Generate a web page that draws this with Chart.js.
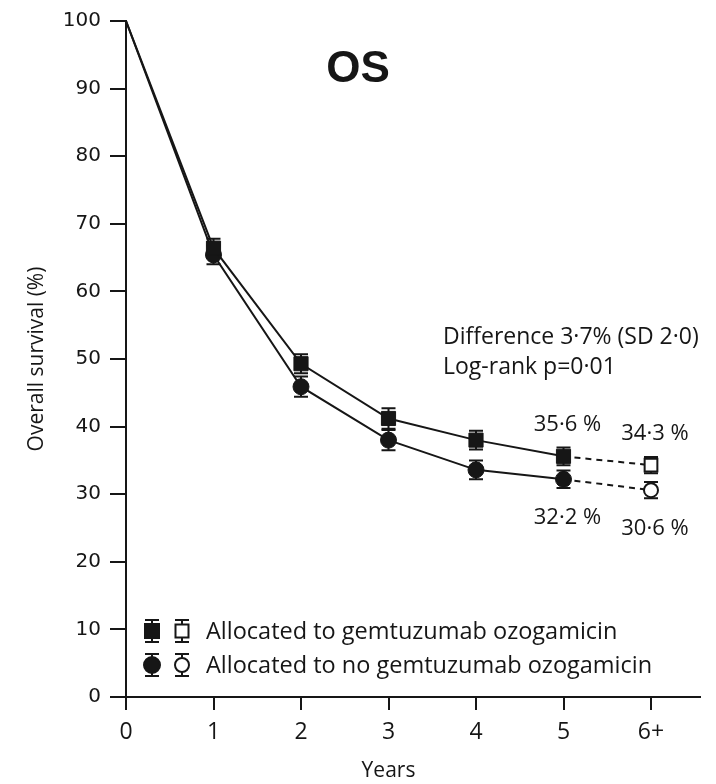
<!DOCTYPE html>
<html>
<head>
<meta charset="utf-8">
<script src="https://cdn.jsdelivr.net/npm/chart.js@4/dist/chart.umd.min.js"></script>
<style>
  html, body { margin: 0; padding: 0; background: #fff; }
  #wrap { width: 716px; height: 784px; }
</style>
</head>
<body>
<div id="wrap"><canvas id="c" width="716" height="784"></canvas></div>
<script>
// Overall survival by allocation, years since randomisation
const years = [0, 1, 2, 3, 4, 5, 6];
const xTickLabels = ['0', '1', '2', '3', '4', '5', '6+'];
const yTickValues = [0, 10, 20, 30, 40, 50, 60, 70, 80, 90, 100];

const goSurvival   = [100, 66.4, 49.3, 41.2, 38.0, 35.6, 34.3];
const goError      = [0, 1.4, 1.4, 1.5, 1.4, 1.3, 1.2];
const noGoSurvival = [100, 65.4, 45.9, 38.0, 33.6, 32.2, 30.6];
const noGoError    = [0, 1.4, 1.5, 1.5, 1.4, 1.3, 1.2];

const legendLabels = ['Allocated to gemtuzumab ozogamicin', 'Allocated to no gemtuzumab ozogamicin'];
const statLines = ['Difference 3·7% (SD 2·0)', 'Log-rank p=0·01'];
const panelTitle = 'OS';
const xTitle = 'Years';

const INK = '#161616';
const TEXT_FONT = '"Open Sans", "Noto Sans", sans-serif';

function points(values, from, to) {
  const out = [];
  for (let i = from; i <= to; i++) out.push({ x: years[i], y: values[i] });
  return out;
}
function pct(v) { return v.toFixed(1).replace('.', '·') + ' %'; }

// error bars under the markers, value labels, stats text, titles and legend
const decorations = {
  id: 'decorations',
  beforeDatasetsDraw(chart) {
    const { ctx, scales: { x, y } } = chart;
    ctx.save();
    ctx.strokeStyle = INK;
    ctx.lineWidth = 2;
    [[goSurvival, goError], [noGoSurvival, noGoError]].forEach(([vals, errs]) => {
      for (let i = 1; i < years.length; i++) {
        const px = x.getPixelForValue(years[i]);
        const top = y.getPixelForValue(vals[i] + errs[i]);
        const bot = y.getPixelForValue(vals[i] - errs[i]);
        ctx.beginPath();
        ctx.moveTo(px, top); ctx.lineTo(px, bot);
        ctx.moveTo(px - 7, top); ctx.lineTo(px + 7, top);
        ctx.moveTo(px - 7, bot); ctx.lineTo(px + 7, bot);
        ctx.stroke();
      }
    });
    ctx.restore();
  },
  afterDatasetsDraw(chart) {
    const { ctx, scales: { x, y } } = chart;
    ctx.save();
    ctx.fillStyle = INK;

    // panel title
    ctx.font = 'bold 44px "Liberation Sans", Arial, sans-serif';
    ctx.textAlign = 'center';
    ctx.textBaseline = 'middle';
    ctx.fillText(panelTitle, 358, 70);

    // x axis title, centred under the labelled ticks
    ctx.font = '21px ' + TEXT_FONT;
    ctx.fillText(xTitle, (x.getPixelForValue(years[0]) + x.getPixelForValue(years[years.length - 1])) / 2, 771);

    // statistics
    ctx.font = '23px ' + TEXT_FONT;
    ctx.textAlign = 'left';
    ctx.textBaseline = 'alphabetic';
    ctx.fillText(statLines[0], 443, 344);
    ctx.fillText(statLines[1], 443, 374);

    // value labels at 5 years and 6+ years
    ctx.font = '22px ' + TEXT_FONT;
    ctx.textAlign = 'center';
    [5, 6].forEach(i => {
      const px = x.getPixelForValue(years[i]) + 4;
      ctx.fillText(pct(goSurvival[i]), px, y.getPixelForValue(goSurvival[i]) - 25);
      ctx.fillText(pct(noGoSurvival[i]), px, y.getPixelForValue(noGoSurvival[i]) + 45);
    });

    // legend
    const rows = [
      { yPos: 631, style: 'rect', text: legendLabels[0] },
      { yPos: 665, style: 'circle', text: legendLabels[1] }
    ];
    rows.forEach(r => {
      [[152, true], [182, false]].forEach(([cx, filled]) => {
        ctx.strokeStyle = INK;
        ctx.lineWidth = 2;
        ctx.beginPath();
        ctx.moveTo(cx, r.yPos - 11); ctx.lineTo(cx, r.yPos + 11);
        ctx.moveTo(cx - 7, r.yPos - 11); ctx.lineTo(cx + 7, r.yPos - 11);
        ctx.moveTo(cx - 7, r.yPos + 11); ctx.lineTo(cx + 7, r.yPos + 11);
        ctx.stroke();
        ctx.beginPath();
        if (r.style === 'rect') {
          const s = filled ? 7 : 6.5;
          ctx.rect(cx - s, r.yPos - s, 2 * s, 2 * s);
        } else {
          ctx.arc(cx, r.yPos, filled ? 8 : 7, 0, Math.PI * 2);
        }
        ctx.fillStyle = filled ? INK : '#fff';
        ctx.fill();
        ctx.stroke();
      });
      ctx.fillStyle = INK;
      ctx.font = '23.5px ' + TEXT_FONT;
      ctx.textAlign = 'left';
      ctx.textBaseline = 'middle';
      ctx.fillText(r.text, 206, r.yPos + 1);
    });
    ctx.restore();
  }
};

const solidCommon = {
  borderColor: INK,
  borderWidth: 2,
  pointBorderColor: INK,
  pointBackgroundColor: INK,
  pointBorderWidth: 1,
  tension: 0
};
const dashedCommon = {
  borderColor: INK,
  borderWidth: 2,
  borderDash: [6, 5],
  pointBorderColor: INK,
  pointBackgroundColor: '#fff',
  pointBorderWidth: 2,
  tension: 0
};

new Chart(document.getElementById('c'), {
  type: 'line',
  data: {
    datasets: [
      Object.assign({ label: legendLabels[0], data: points(goSurvival, 0, 5), pointStyle: 'rect',
        pointRadius: c => (c.dataIndex === 0 ? 0 : 10) }, solidCommon),
      Object.assign({ label: legendLabels[1], data: points(noGoSurvival, 0, 5), pointStyle: 'circle',
        pointRadius: c => (c.dataIndex === 0 ? 0 : 8) }, solidCommon),
      Object.assign({ label: legendLabels[0] + ' (6+)', data: points(goSurvival, 5, 6), pointStyle: 'rect',
        pointRadius: c => (c.dataIndex === 0 ? 0 : 9) }, dashedCommon),
      Object.assign({ label: legendLabels[1] + ' (6+)', data: points(noGoSurvival, 5, 6), pointStyle: 'circle',
        pointRadius: c => (c.dataIndex === 0 ? 0 : 7) }, dashedCommon)
    ]
  },
  options: {
    responsive: false,
    animation: false,
    devicePixelRatio: 1,
    layout: { padding: { top: 17, right: 16, left: 0, bottom: 0 } },
    plugins: { legend: { display: false }, tooltip: { enabled: false } },
    scales: {
      x: {
        type: 'linear',
        min: 0,
        max: 6.56,
        afterBuildTicks: s => { s.ticks = years.map(v => ({ value: v })); },
        afterFit: s => { s.height = 87; },
        ticks: {
          callback: v => xTickLabels[years.indexOf(v)],
          font: { family: TEXT_FONT, size: 23 },
          color: INK,
          padding: 9,
          maxRotation: 0
        },
        grid: { drawOnChartArea: false, drawTicks: true, tickLength: 13, color: INK, lineWidth: 2 },
        border: { display: true, color: INK, width: 2 },
        title: { display: false }
      },
      y: {
        type: 'linear',
        min: 0,
        max: 100,
        afterBuildTicks: s => { s.ticks = yTickValues.map(v => ({ value: v })); },
        afterFit: s => { s.width = 126; },
        ticks: {
          font: { family: '"DejaVu Sans", sans-serif', size: 20 },
          color: INK,
          padding: 9
        },
        grid: { drawOnChartArea: false, drawTicks: true, tickLength: 16, color: INK, lineWidth: 2 },
        border: { display: true, color: INK, width: 2 },
        title: { display: true, text: 'Overall survival (%)',
          font: { family: '"Liberation Sans Narrow", "Open Sans", sans-serif', size: 21 }, color: INK,
          padding: { top: 24, bottom: 0 } }
      }
    }
  },
  plugins: [decorations]
});
</script>
</body>
</html>
